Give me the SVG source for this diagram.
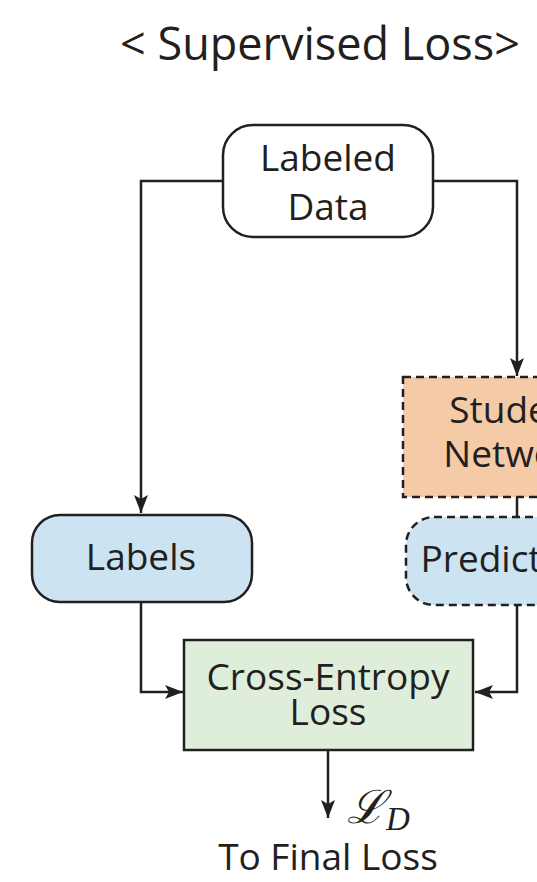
<svg xmlns="http://www.w3.org/2000/svg" width="537" height="882" viewBox="0 0 537 882">
<style>
text{font-family:"Open Sans","Noto Sans","Liberation Sans",sans-serif;fill:#231f20;text-anchor:middle}
.t{font-size:37px}
.box{stroke:#231f20;stroke-width:2.5}
.dash{stroke-dasharray:8 5}
.edge{fill:none;stroke:#231f20;stroke-width:2.5}
</style>
<defs>
<marker id="ah" markerUnits="userSpaceOnUse" markerWidth="20" markerHeight="20" viewBox="0 0 20 20" refX="18" refY="10" orient="auto">
<path d="M0,3 L18,10 L0,17 L4,10 Z" fill="#231f20"/>
</marker>
</defs>
<text x="320" y="60" style="font-size:45px">&lt; Supervised Loss&gt;</text>
<g id="connectors">
<path class="edge" d="M223,181 H141 V513" marker-end="url(#ah)"/>
<path class="edge" d="M433,181 H517 V376" marker-end="url(#ah)"/>
<path class="edge" d="M517,497 V517"/>
<path class="edge" d="M141,602 V692 H183" marker-end="url(#ah)"/>
<path class="edge" d="M517,605 V692 H475" marker-end="url(#ah)"/>
<path class="edge" d="M328,750 V818" marker-end="url(#ah)"/>
</g>
<g id="labeled-data">
<rect class="box" x="223" y="125" width="210" height="112" rx="30" fill="#ffffff"/>
<text class="t" x="328" y="171">Labeled</text>
<text class="t" x="328" y="220">Data</text>
</g>
<g id="student-network">
<rect class="box dash" x="403" y="377" width="228" height="120" fill="#f5cba7"/>
<text class="t" x="517" y="423">Student</text>
<text class="t" x="517" y="467">Network</text>
</g>
<g id="labels">
<rect class="box" x="32" y="515" width="220" height="87" rx="28" fill="#cce3f1"/>
<text class="t" x="141" y="570">Labels</text>
</g>
<g id="predictions">
<rect class="box dash" x="406" y="517" width="222" height="88" rx="28" fill="#cce3f1"/>
<text class="t" x="517" y="572">Predictions</text>
</g>
<g id="cross-entropy">
<rect class="box" x="184" y="640" width="289" height="110" fill="#dfeedb"/>
<text class="t" x="328" y="690">Cross-Entropy</text>
<text class="t" x="328" y="725">Loss</text>
</g>
<g id="output">
<text x="347" y="823" style="font-family:'DejaVu Serif',serif;font-size:46px;font-style:italic;text-anchor:start">ℒ</text>
<text x="386" y="830" style="font-family:'Liberation Serif',serif;font-size:33px;font-style:italic;text-anchor:start">D</text>
<text class="t" x="328" y="870">To Final Loss</text>
</g>
</svg>
